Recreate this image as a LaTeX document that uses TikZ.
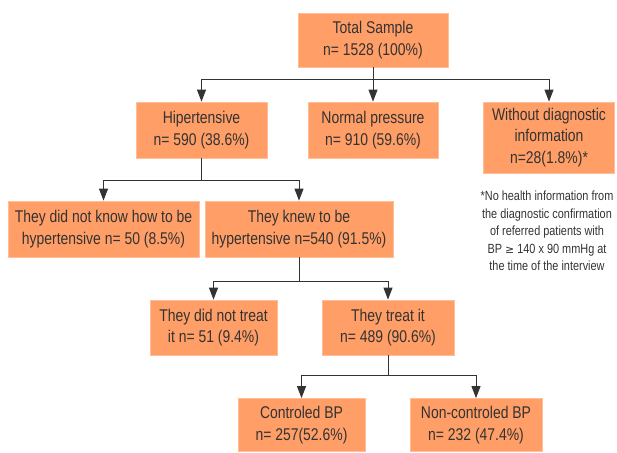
\documentclass[tikz,border=0pt]{standalone}
\usepackage{fontspec}
\setmainfont[FakeStretch=0.82]{Liberation Sans}
\usetikzlibrary{arrows.meta}
\definecolor{boxfill}{HTML}{FF9E66}
\definecolor{boxedge}{HTML}{FFBE96}
\definecolor{ink}{HTML}{333333}
\begin{document}
\begin{tikzpicture}[x=1pt,y=-1pt,
  box/.style={rectangle, fill=boxfill, draw=boxedge, line width=0.8pt, align=center,
    inner sep=0pt, text=ink, font=\fontsize{17}{21.5}\selectfont},
  conn/.style={draw=ink, line width=1pt},
  arr/.style={conn, -{Triangle[length=12pt,width=9pt]}},
  note/.style={align=center, text=ink, font=\fontsize{13.3}{17.4}\selectfont}]
\useasboundingbox (0,0) rectangle (617,452);
\node[box, minimum width=150pt, minimum height=54pt] (total) at (373,40) {Total Sample\\n= 1528 (100\%)};
\node[box, minimum width=131pt, minimum height=56pt] (hip) at (201.5,130) {Hipertensive\\n= 590 (38.6\%)};
\node[box, minimum width=130pt, minimum height=56pt] (norm) at (373,130) {Normal pressure\\n= 910 (59.6\%)};
\node[box, minimum width=131pt, minimum height=71pt] (wo) at (549,137.5) {Without diagnostic\\information\\n=28(1.8\%)*};
\node[note] (fn) at (547,231) {*No health information from\\the diagnostic confirmation\\of referred patients with\\BP {\fontspec{DejaVu Sans}\fontsize{11}{17}\selectfont ≥} 140 x 90 mmHg at\\the time of the interview};
\node[box, minimum width=191pt, minimum height=56pt] (dnk) at (103.5,229) {They did not know how to be\\hypertensive n= 50 (8.5\%)};
\node[box, minimum width=188pt, minimum height=56pt] (knew) at (299,229) {They knew to be\\hypertensive n=540 (91.5\%)};
\node[box, minimum width=127pt, minimum height=55pt] (dnt) at (213.5,327.5) {They did not treat\\it n= 51 (9.4\%)};
\node[box, minimum width=132pt, minimum height=55pt] (treat) at (388,327.5) {They treat it\\n= 489 (90.6\%)};
\node[box, minimum width=127pt, minimum height=53pt] (ctrl) at (301.5,425) {Controled BP\\n= 257(52.6\%)};
\node[box, minimum width=132pt, minimum height=53pt] (nctrl) at (476,425) {Non-controled BP\\n= 232 (47.4\%)};
\coordinate (j1) at (373,79);
\coordinate (j2) at (201.5,180);
\coordinate (j3) at (299,281);
\coordinate (j4) at (388,375);
\draw[conn] (total.south) -- (j1);
\draw[arr] (j1) -| (hip.north);
\draw[arr] (j1) -- (norm.north);
\draw[arr] (j1) -| (wo.north);
\draw[conn] (hip.south) -- (j2);
\draw[arr] (j2) -| (dnk.north);
\draw[arr] (j2) -| (knew.north);
\draw[conn] (knew.south) -- (j3);
\draw[arr] (j3) -| (dnt.north);
\draw[arr] (j3) -| (treat.north);
\draw[conn] (treat.south) -- (j4);
\draw[arr] (j4) -| (ctrl.north);
\draw[arr] (j4) -| (nctrl.north);
\end{tikzpicture}
\end{document}
